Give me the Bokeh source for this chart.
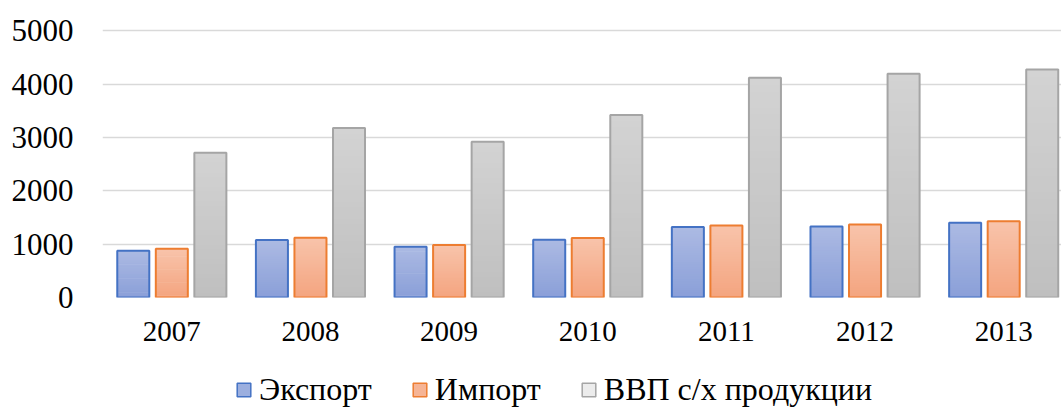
from bokeh.plotting import figure
from bokeh.layouts import column
from bokeh.models import Range1d, FixedTicker, Legend, LegendItem, ColumnDataSource
from bokeh.transform import dodge
from bokeh.embed import file_html
from bokeh.resources import INLINE

years = ["2007", "2008", "2009", "2010", "2011", "2012", "2013"]
export_vals = [875, 1075, 950, 1080, 1320, 1330, 1400]
import_vals = [915, 1120, 985, 1115, 1350, 1370, 1430]
gdp_vals = [2710, 3175, 2920, 3420, 4115, 4190, 4270]
series_names = ["Экспорт", "Импорт", "ВВП с/х продукции"]

FONT = "Liberation Serif"

p = figure(width=1061, height=352, output_backend="svg", toolbar_location=None,
           x_range=Range1d(-0.5, 6.417), y_range=Range1d(0, 5040),
           min_border_left=102, min_border_right=0, min_border_top=28,
           min_border_bottom=55)
p.outline_line_color = None
p.background_fill_color = "white"
p.border_fill_color = "white"

# legend strip (its own small figure, so the legend is not clipped by the plot frame)
lg = figure(width=1061, height=56, output_backend="svg", toolbar_location=None,
            x_range=Range1d(-0.5, 6.417), y_range=Range1d(-2, -1),
            x_axis_type=None, y_axis_type=None,
            min_border_left=0, min_border_right=0, min_border_top=0,
            min_border_bottom=0)
lg.outline_line_color = None
lg.grid.visible = False

idx = list(range(len(years)))

def hexmix(c1, c2, t):
    a = [int(c1[i:i + 2], 16) for i in (1, 3, 5)]
    b = [int(c2[i:i + 2], 16) for i in (1, 3, 5)]
    return "#%02x%02x%02x" % tuple(round(a[k] + (b[k] - a[k]) * t) for k in range(3))

specs = [
    (export_vals, -0.278, "#8a9fd8", "#acbae3", "#4472c4", "#9cafdf"),
    (import_vals, 0.0, "#f4a47f", "#f8c4ab", "#ed7d31", "#f6b495"),
    (gdp_vals, 0.278, "#bfbfbf", "#d3d3d3", "#a5a5a5", "#ececec"),
]
W = 0.231
N = 30
legend_items = []
for (vals, off, cbot, ctop, cline, cleg), name in zip(specs, series_names):
    for k in range(N):
        src = ColumnDataSource(dict(
            x=idx,
            b=[v * k / N for v in vals],
            t=[min(v, v * (k + 1.4) / N) for v in vals],
        ))
        p.vbar(x=dodge("x", off), width=W, bottom="b", top="t", source=src,
               fill_color=hexmix(cbot, ctop, (k + 0.5) / N), line_color=None)
    src = ColumnDataSource(dict(x=idx, t=vals))
    p.vbar(x=dodge("x", off), width=W, bottom=0, top="t", source=src,
           fill_alpha=0, line_color=cline, line_width=2)
    # same series in the legend strip, hidden there -> only the legend swatch shows
    leg_r = lg.vbar(x=dodge("x", off), width=W, bottom=0, top="t", source=src,
                    fill_color=cleg, line_color=cline, line_width=1.5)
    leg_r.visible = False
    legend_items.append(LegendItem(label=name, renderers=[leg_r]))

# axes
p.xaxis.ticker = FixedTicker(ticks=idx)
p.xaxis.major_label_overrides = {i: y for i, y in zip(idx, years)}
p.xaxis.axis_line_color = None
p.xaxis.major_tick_line_color = None
p.xaxis.minor_tick_line_color = None
p.xaxis.major_label_standoff = 18
p.xaxis.major_label_text_font = FONT
p.xaxis.major_label_text_font_size = "29px"
p.xaxis.major_label_text_color = "#000000"

p.yaxis.ticker = FixedTicker(ticks=[0, 1000, 2000, 3000, 4000, 5000])
p.yaxis.axis_line_color = None
p.yaxis.major_tick_line_color = None
p.yaxis.minor_tick_line_color = None
p.yaxis.major_label_standoff = 23
p.yaxis.major_label_text_font = FONT
p.yaxis.major_label_text_font_size = "31px"
p.yaxis.major_label_text_color = "#000000"

p.xgrid.grid_line_color = None
p.ygrid.grid_line_color = "#d9d9d9"
p.ygrid.grid_line_width = 1.5
p.ygrid.level = "underlay"

legend = Legend(items=legend_items, orientation="horizontal",
                location=(133, 0), padding=0, margin=0, spacing=39,
                glyph_width=17, glyph_height=17, label_standoff=7,
                label_text_font=FONT, label_text_font_size="32px",
                label_text_color="#000000", border_line_color=None,
                background_fill_alpha=0)
lg.add_layout(legend, "center")

layout = column(p, lg, spacing=0)
open("out.html", "w").write(file_html(layout, INLINE))
